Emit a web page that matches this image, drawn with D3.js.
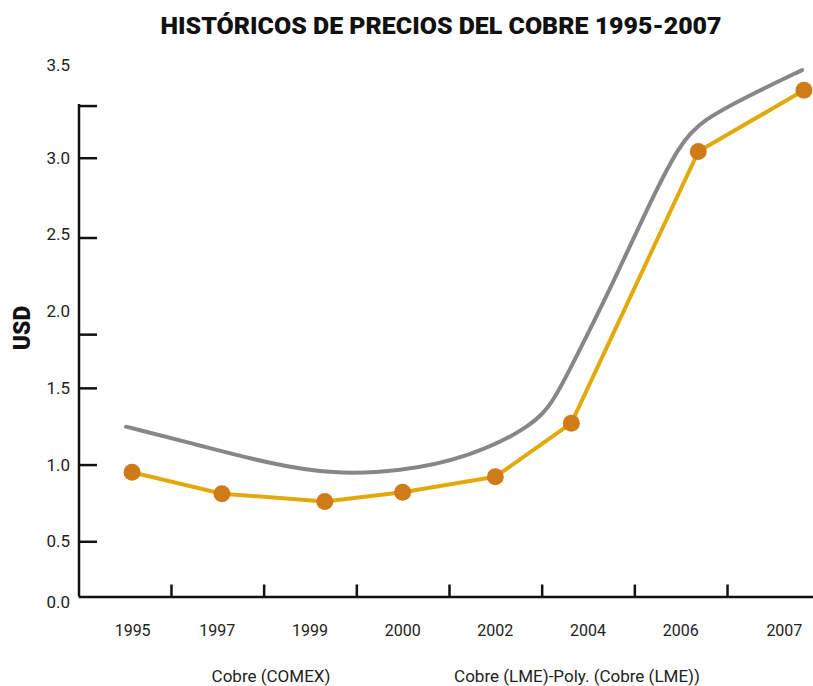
<!DOCTYPE html>
<html>
<head>
<meta charset="utf-8">
<script src="https://cdn.jsdelivr.net/npm/d3@7"></script>
<style>
  html, body { margin: 0; padding: 0; background: #fff; }
  svg { display: block; }
  text { font-family: Roboto, "Open Sans", sans-serif; }
</style>
</head>
<body>
<svg id="chart" width="813" height="686"></svg>
<script>
// ---- data ----
const categories = ["1995", "1997", "1999", "2000", "2002", "2004", "2006", "2007"];
// position of each COMEX point along the category axis (category units)
const comexSlot = [0.08, 1.05, 2.16, 3.00, 4.00, 4.82, 6.19, 7.33];
const comexValues = [0.95, 0.81, 0.76, 0.82, 0.92, 1.27, 3.04, 3.44];
// polynomial trend line (LME)
const trendSlot   = [0.015, 0.81, 1.53, 2.25, 2.97, 3.69, 4.41, 4.64, 4.91, 5.27, 5.63, 5.99, 6.24, 6.71, 7.31];
const trendValues = [1.247, 1.125, 1.010, 0.935, 0.955, 1.041, 1.250, 1.421, 1.747, 2.183, 2.659, 3.096, 3.246, 3.397, 3.571];
const yTickValues = [0.0, 0.5, 1.0, 1.5, 2.0, 2.5, 3.0, 3.5];
const yTickLabels = ["0.0", "0.5", "1.0", "1.5", "2.0", "2.5", "3.0", "3.5"];
const yTickMarks = [0.5, 1.0, 1.5, 1.85, 2.48, 3.0, 3.34];
const yAxisTop = 3.34, yAxisBase = 0.14;
const title = "HISTÓRICOS DE PRECIOS DEL COBRE 1995-2007";
const yTitle = "USD";
const seriesNames = ["Cobre (COMEX)", "Cobre (LME)-Poly. (Cobre (LME))"];

// ---- chart ----
const svg = d3.select("#chart");
const x = d3.scaleLinear().domain([-0.5, categories.length - 0.5]).range([78.3, 819.7]);
const y = d3.scaleLinear().domain([0, 3.5]).range([618, 81]);

// title
svg.append("text")
  .attr("x", 441).attr("y", 34)
  .attr("text-anchor", "middle")
  .attr("font-size", 24).attr("font-weight", 900).attr("fill", "#111")
  .attr("textLength", 561).attr("lengthAdjust", "spacingAndGlyphs")
  .text(title);

// y axis title
svg.append("text")
  .attr("transform", "translate(30,328) rotate(-90)")
  .attr("text-anchor", "middle")
  .attr("font-size", 23).attr("font-weight", 900).attr("fill", "#111")
  .text(yTitle);

// y axis: line + tick marks
const yAxisG = svg.append("g").attr("transform", `translate(${x(-0.5) + 0.7},0)`);
yAxisG.call(d3.axisRight(y).tickValues(yTickMarks).tickSize(18).tickFormat(""));
yAxisG.select(".domain").remove();
yAxisG.selectAll(".tick line").attr("stroke", "#111").attr("stroke-width", 2.5);
yAxisG.append("line")
  .attr("x1", 0).attr("x2", 0)
  .attr("y1", y(yAxisTop) - 1.5).attr("y2", y(yAxisBase))
  .attr("stroke", "#111").attr("stroke-width", 2.5);

// y tick labels
svg.append("g").selectAll("text")
  .data(yTickValues)
  .join("text")
  .attr("x", 70)
  .attr("y", (d) => d === 0 ? y(yAxisBase) + 6 : (d === 3.5 ? y(yAxisTop) - 40 : y(d)))
  .attr("dy", "0.35em")
  .attr("text-anchor", "end")
  .attr("font-size", 17).attr("fill", "#222")
  .text((d, i) => yTickLabels[i]);

// x axis baseline with upward ticks
const xAxisG = svg.append("g").attr("transform", `translate(0,${y(yAxisBase)})`);
xAxisG.call(
  d3.axisBottom(x)
    .tickValues(d3.range(0.5, categories.length - 0.5, 1))
    .tickSizeInner(-12).tickSizeOuter(0)
    .tickFormat("")
);
xAxisG.select(".domain").attr("stroke", "#111").attr("stroke-width", 2.5);
xAxisG.selectAll(".tick line").attr("stroke", "#111").attr("stroke-width", 2.5);

// x tick labels
svg.append("g").selectAll("text")
  .data(categories)
  .join("text")
  .attr("x", (d, i) => x(i) + (i === 0 ? 8 : 0) + (i === categories.length - 1 ? 11 : 0))
  .attr("y", 636)
  .attr("text-anchor", "middle")
  .attr("font-size", 16).attr("fill", "#222")
  .text((d) => d);

// trend line (gray)
const trend = trendSlot.map((s, i) => [s, trendValues[i]]);
svg.append("path")
  .datum(trend)
  .attr("fill", "none")
  .attr("stroke", "#878787")
  .attr("stroke-width", 4)
  .attr("stroke-linecap", "round")
  .attr("d", d3.line().x((d) => x(d[0])).y((d) => y(d[1])).curve(d3.curveBasis));

// COMEX line (gold) and markers
const comex = comexSlot.map((s, i) => [s, comexValues[i]]);
svg.append("path")
  .datum(comex)
  .attr("fill", "none")
  .attr("stroke", "#E2A90D")
  .attr("stroke-width", 4)
  .attr("stroke-linejoin", "round")
  .attr("d", d3.line().x((d) => x(d[0])).y((d) => y(d[1])));
svg.append("g").selectAll("circle")
  .data(comex)
  .join("circle")
  .attr("cx", (d) => x(d[0]))
  .attr("cy", (d) => y(d[1]))
  .attr("r", 8.5)
  .attr("fill", "#D07B1A");

// series labels
svg.append("g").selectAll("text")
  .data(seriesNames)
  .join("text")
  .attr("x", (d, i) => [271, 577][i])
  .attr("y", 682)
  .attr("text-anchor", "middle")
  .attr("font-size", 17).attr("fill", "#222")
  .text((d) => d);
</script>
</body>
</html>
